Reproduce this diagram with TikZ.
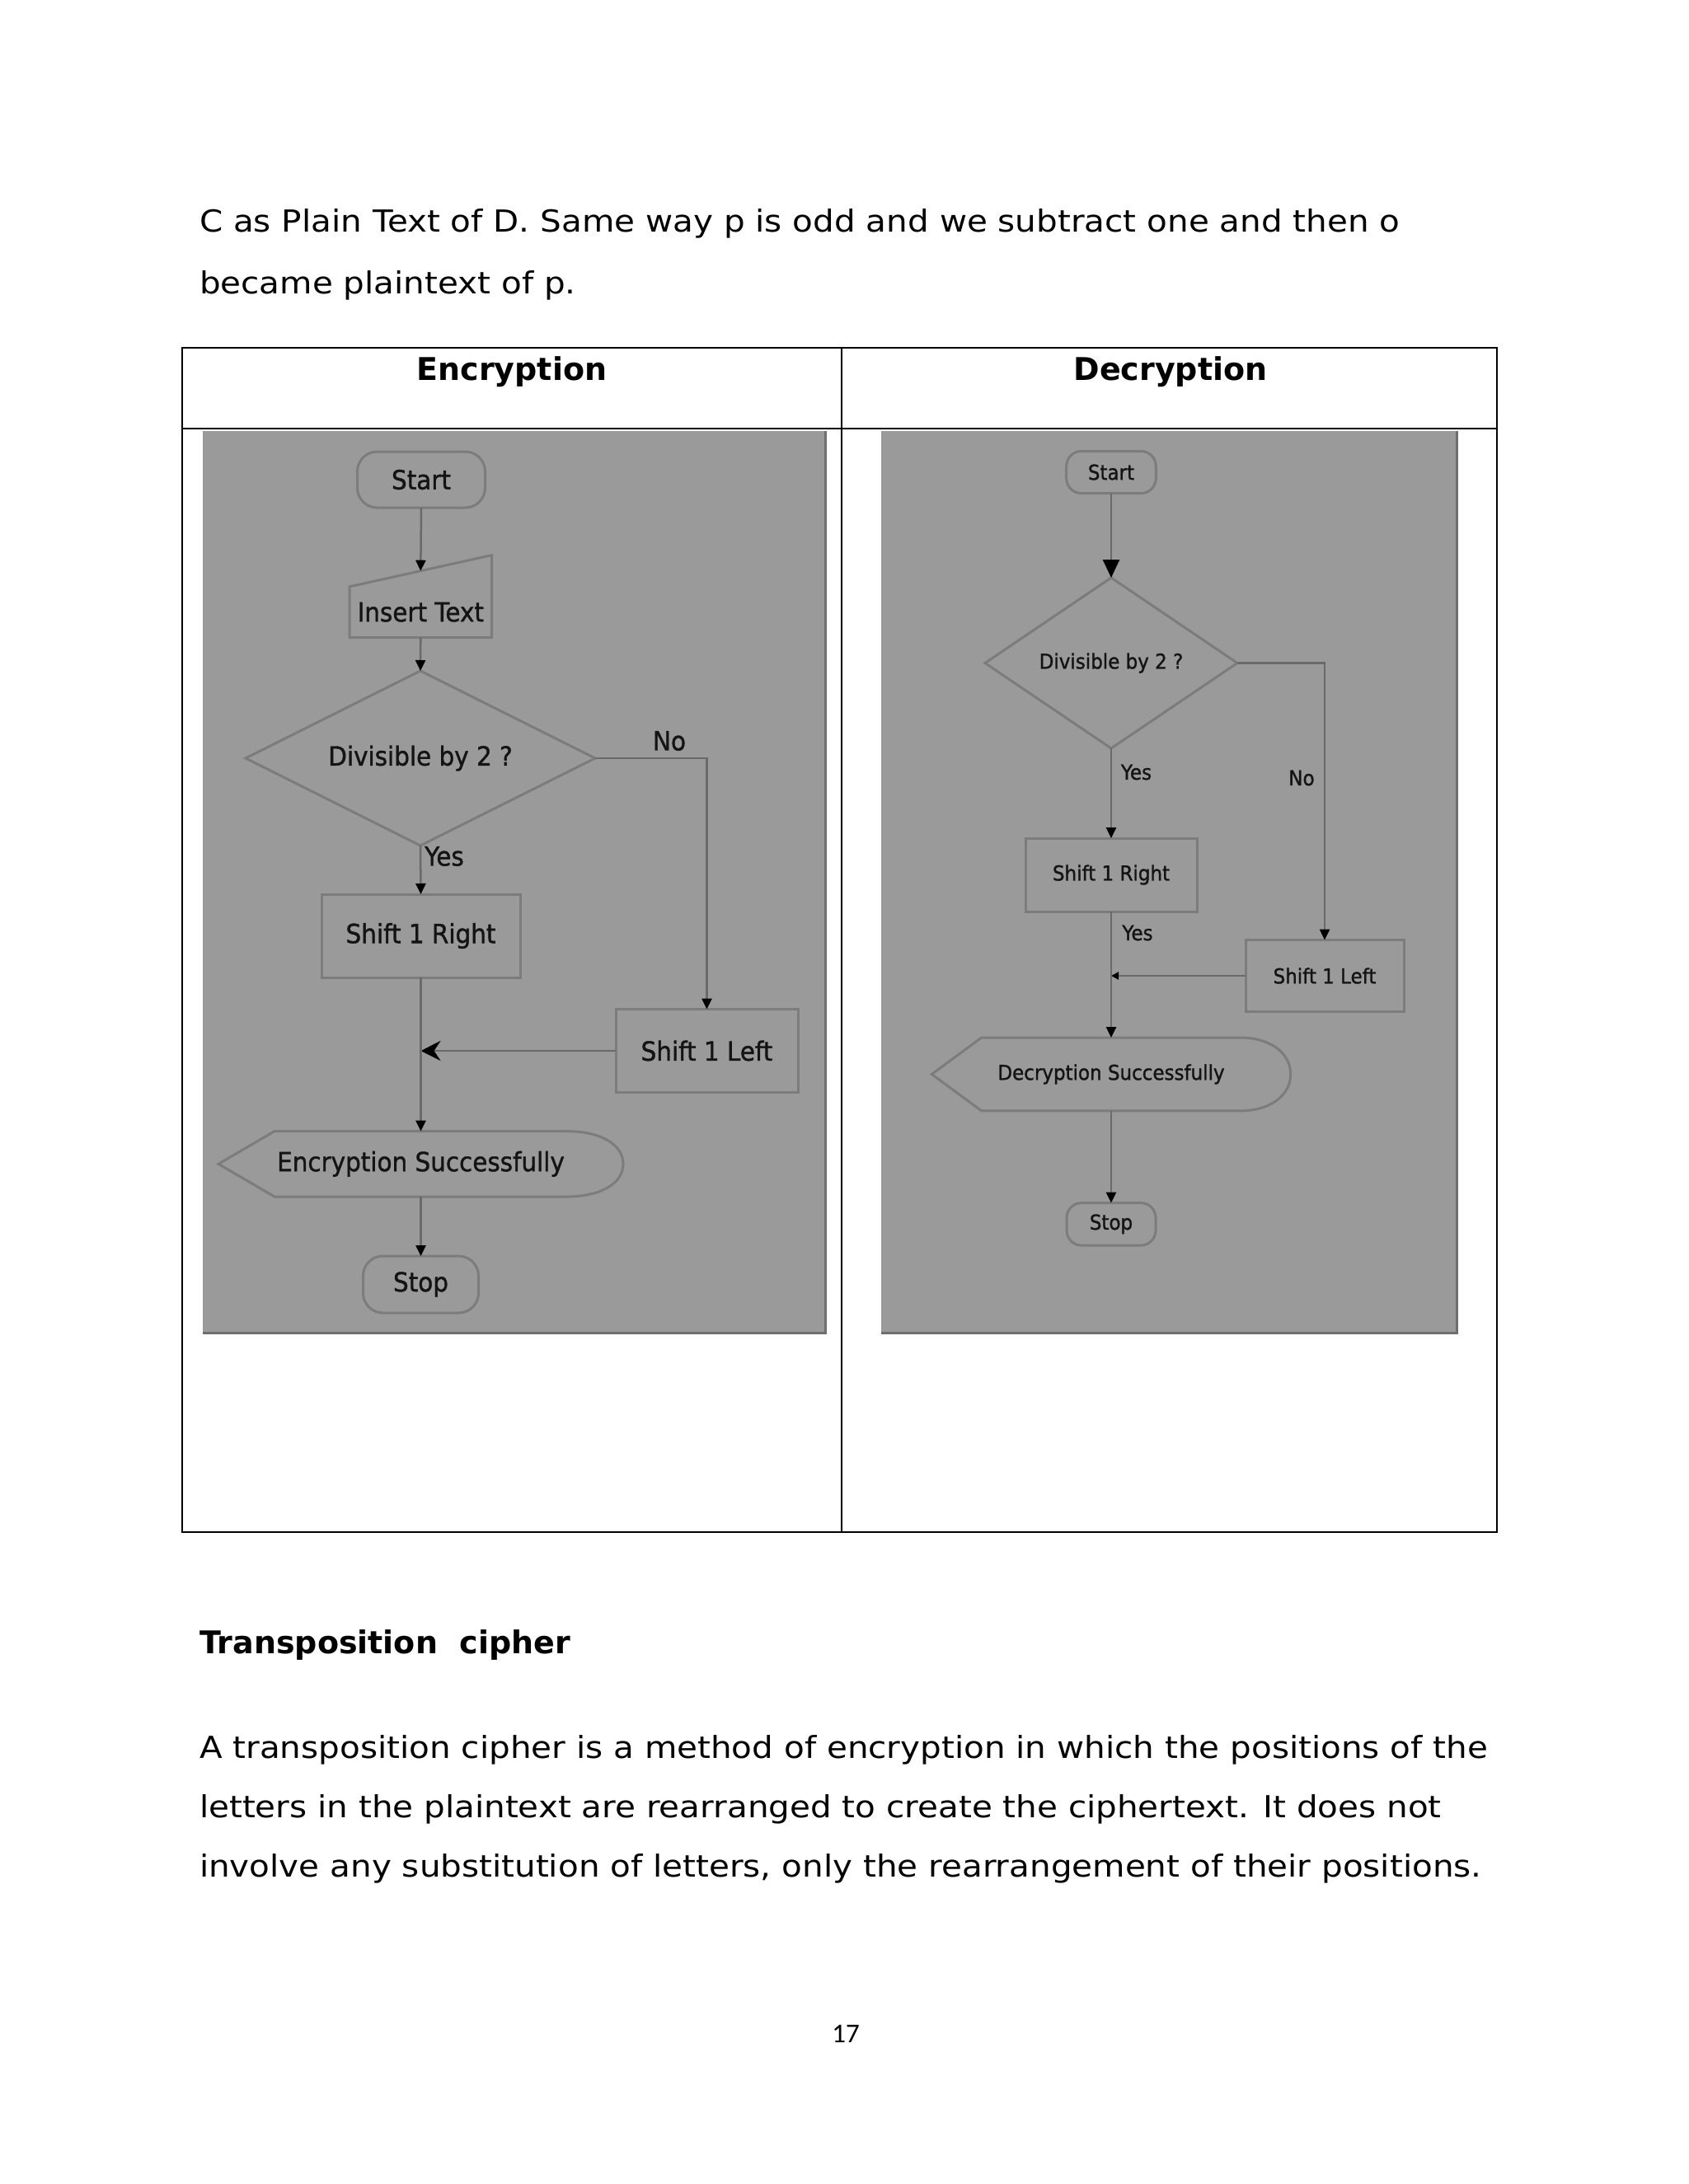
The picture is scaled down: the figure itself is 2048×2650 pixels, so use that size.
\documentclass[tikz,border=0pt]{standalone}
\usepackage{fontspec}
\setmainfont{DejaVu Sans}
\newfontfamily\bodyfont[FakeStretch=1.10]{DejaVu Sans}
\newfontfamily\flowfont[FakeStretch=0.92,FakeBold=1.2]{DejaVu Sans}
\newfontfamily\pagefont{Carlito}
\usetikzlibrary{shapes.geometric,arrows.meta,calc}
\definecolor{panel}{HTML}{9A9A9A}
\definecolor{paneledge}{HTML}{6E6E6E}
\definecolor{shapeedge}{HTML}{7C7C7C}
\definecolor{conncol}{HTML}{6A6A6A}
\definecolor{flowtext}{HTML}{141414}
\begin{document}
\begin{tikzpicture}[x=1pt,y=-1pt,
  every node/.style={inner sep=0pt,outer sep=0pt},
  bodytext/.style={anchor=base west,font=\bodyfont\fontsize{36.8pt}{44pt}\selectfont},
  headtext/.style={anchor=base,font=\fontsize{38pt}{44pt}\selectfont\bfseries},
  ftxtA/.style={text=flowtext,font=\flowfont\fontsize{32pt}{36pt}\selectfont},
  ftxtB/.style={text=flowtext,font=\flowfont\fontsize{25pt}{30pt}\selectfont},
  shapebox/.style={draw=shapeedge,line width=3pt},
  termbox/.style={shapebox,rounded corners=24pt},
  procbox/.style={shapebox},
  decbox/.style={shapebox,diamond,aspect=2},
  conn/.style={draw=conncol,line width=2.5pt,-{Triangle[length=13pt,width=12pt,color=black]}},
  bigconn/.style={draw=conncol,line width=2.5pt,-{Stealth[length=24pt,width=24pt,inset=8pt,color=black]}},
  smallconn/.style={draw=conncol,line width=2.5pt,-{Triangle[length=9pt,width=9pt,color=black]}},
  tablerule/.style={draw=black,line width=2.5pt}]
\useasboundingbox (0,0) rectangle (2048,2650);
\fill[white] (0,0) rectangle (2048,2650);

% top paragraph
\node[bodytext] (p1) at (242,281.7) {C as Plain Text of D. Same way p is odd and we subtract one and then o};
\node[bodytext] (p2) at (242,356.7) {became plaintext of p.};

% gray panels
\fill[panel] (245.5,522.5) rectangle (1001.6,1617);
\draw[paneledge,line width=3pt] (1001.6,522.5) -- (1001.6,1617) -- (245.5,1617);
\fill[panel] (1069.4,522.5) rectangle (1767.9,1617);
\draw[paneledge,line width=3pt] (1767.9,522.5) -- (1767.9,1617) -- (1069.4,1617);

% table
\draw[tablerule] (221,422) rectangle (1816,1859);
\draw[tablerule] (221,520) -- (1816,520);
\draw[tablerule] (1021,422) -- (1021,1859);
\node[headtext] (h1) at (621,461.7) {Encryption};
\node[headtext] (h2) at (1420,461.7) {Decryption};

% ---------- Encryption flowchart ----------
\node[termbox,ftxtA,minimum width=155pt,minimum height=68pt] (st1) at (511,582) {Start};
\node[ftxtA,minimum width=172.5pt,minimum height=61.8pt] (in1) at (510.3,742.7) {Insert Text};
\path (in1.north east) ++(0,-38.2) coordinate (in1ne);
\draw[shapebox] (in1.south west) -- (in1.south east) -- (in1ne) -- (in1.north west) -- cycle;
\coordinate (in1top) at ($(in1.north west)!0.5!(in1ne)$);
\node[decbox,ftxtA,minimum width=424pt,minimum height=212pt] (d1) at (510,920) {Divisible by 2 ?};
\node[procbox,ftxtA,minimum width=241pt,minimum height=101pt] (sr1) at (510.5,1135.5) {Shift 1 Right};
\node[procbox,ftxtA,minimum width=221pt,minimum height=101pt] (sl1) at (857.5,1275) {Shift 1 Left};
\node[ftxtA,minimum width=491pt,minimum height=79.4pt] (es) at (510.5,1412.3) {Encryption Successfully};
\draw[shapebox] (es.west) -- ($(es.north west)+(68,0)$) -- ($(es.north east)+(-68.7,0)$)
  .. controls ($(es.north east)+(-28,0)$) and ($(es.east)+(0,-24)$) .. (es.east)
  .. controls ($(es.east)+(0,24)$) and ($(es.south east)+(-28,0)$) .. ($(es.south east)+(-68.7,0)$)
  -- ($(es.south west)+(68,0)$) -- cycle;
\node[termbox,ftxtA,minimum width=140pt,minimum height=69pt] (sp1) at (510.5,1558.5) {Stop};
\node[ftxtA] (no1) at (812,899) {No};
\node[ftxtA] (yes1) at (539,1039) {Yes};

\draw[conn] (st1.south) -- (in1top);
\draw[conn] (in1.south) -- (d1.north);
\draw[conn] (d1.south) -- (sr1.north);
\draw[conn] (d1.east) -| (sl1.north);
\coordinate (m1) at (sr1.south |- sl1.west);
\draw[bigconn] (sl1.west) -- (m1);
\draw[conn] (sr1.south) -- (es.north);
\draw[conn] (es.south) -- (sp1.north);

% ---------- Decryption flowchart ----------
\node[termbox,ftxtB,rounded corners=18pt,minimum width=108.6pt,minimum height=51pt] (st2) at (1348,573) {Start};
\node[decbox,ftxtB,minimum width=306pt,minimum height=207pt] (d2) at (1348,804.5) {Divisible by 2 ?};
\node[procbox,ftxtB,minimum width=208pt,minimum height=89pt] (sr2) at (1348,1061.5) {Shift 1 Right};
\node[procbox,ftxtB,minimum width=192pt,minimum height=87pt] (sl2) at (1607,1184) {Shift 1 Left};
\node[ftxtB,minimum width=435.3pt,minimum height=88.8pt] (ds) at (1348,1303.4) {Decryption Successfully};
\draw[shapebox] (ds.west) -- ($(ds.north west)+(60.3,0)$) -- ($(ds.north east)+(-61,0)$)
  .. controls ($(ds.north east)+(-25,0)$) and ($(ds.east)+(0,-26)$) .. (ds.east)
  .. controls ($(ds.east)+(0,26)$) and ($(ds.south east)+(-25,0)$) .. ($(ds.south east)+(-61,0)$)
  -- ($(ds.south west)+(60.3,0)$) -- cycle;
\node[termbox,ftxtB,rounded corners=18pt,minimum width=108pt,minimum height=51.5pt] (sp2) at (1348,1485.3) {Stop};
\node[ftxtB] (yes2) at (1378.5,937) {Yes};
\node[ftxtB] (no2) at (1579,944) {No};
\node[ftxtB] (yes3) at (1380,1132) {Yes};

\draw[draw=conncol,line width=2.5pt,-{Triangle[length=22pt,width=20pt,color=black]}] (st2.south) -- (d2.north);
\draw[conn] (d2.south) -- (sr2.north);
\draw[conn] (d2.east) -| (sl2.north);
\coordinate (m2) at (sr2.south |- sl2.west);
\draw[smallconn] (sl2.west) -- (m2);
\draw[conn] (sr2.south) -- (ds.north);
\draw[conn] (ds.south) -- (sp2.north);

% bottom section
\node[anchor=base west,font=\fontsize{38pt}{44pt}\selectfont\bfseries] (t1) at (242,2006.7) {Transposition\ \ cipher};
\node[bodytext] (b1) at (242,2133) {A transposition cipher is a method of encryption in which the positions of the};
\node[bodytext] (b2) at (242,2205) {letters in the plaintext are rearranged to create the ciphertext. It does not};
\node[bodytext] (b3) at (242,2277) {involve any substitution of letters, only the rearrangement of their positions.};
\node[anchor=base,font=\pagefont\fontsize{33pt}{40pt}\selectfont] (pg) at (1026,2478) {17};
\end{tikzpicture}
\end{document}
